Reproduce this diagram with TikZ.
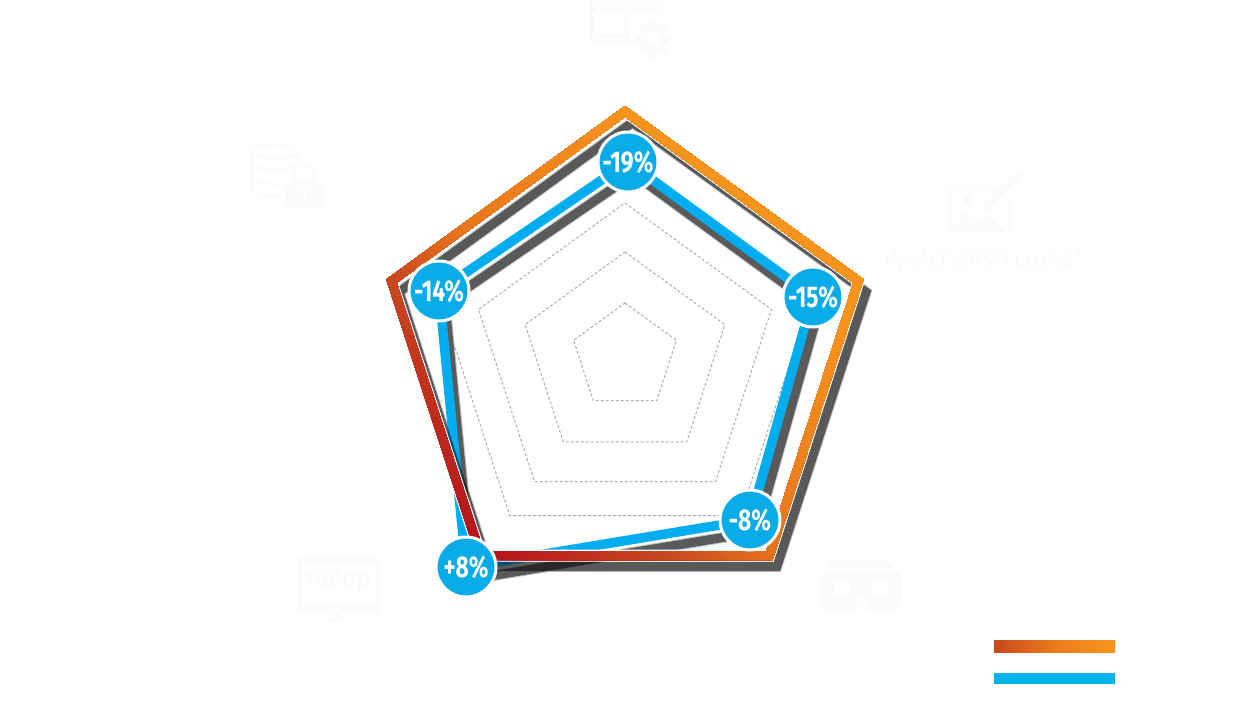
\documentclass[tikz,border=0pt]{standalone}
\usepackage{fontspec}
\setmainfont{Fira Sans}
\newfontfamily\cond[FakeStretch=.76]{Fira Sans}
\newfontfamily\lab[FakeStretch=.83]{Fira Sans}
\usetikzlibrary{calc}
\definecolor{skyb}{HTML}{0AACE8}
\definecolor{lineb}{HTML}{00AEEF}
\definecolor{legb}{HTML}{00B4EB}
\definecolor{shad}{HTML}{5B5A5B}
\definecolor{shadm}{HTML}{767576}
\definecolor{shadl}{HTML}{C4C4C4}
\definecolor{faint}{HTML}{FBFBFB}
\definecolor{ca}{HTML}{B5121B}
\definecolor{cb}{HTML}{C8481F}
\definecolor{cc}{HTML}{E8751B}
\definecolor{cd}{HTML}{F7941D}
\newcommand\pentpath[1]{(-90:#1) -- (-18:#1) -- (54:#1) -- (126:#1) -- (198:#1) -- cycle}
\tikzset{
  ring/.style={draw=black!33,line width=1pt,dash pattern=on 2.8pt off 2.2pt},
  badge/.style={circle,fill=skyb,draw=white,line width=3pt,minimum size=60pt,inner sep=0pt,
    text=white,font=\cond\bfseries\fontsize{30}{30}\selectfont},
  bluestroke/.style={draw=lineb,line width=9.5pt,miter limit=10},
  shadowstroke/.style={draw=shad,line width=9pt},
  blurstroke/.style={draw=shadl,line width=11pt},
  ghost/.style={fill=faint,draw=none},
  ghostline/.style={draw=faint,line width=2.6pt},
  hole/.style={fill=white,draw=none}
}
\begin{document}
\begin{tikzpicture}[x=1pt,y=-1pt]
\useasboundingbox (0,0) rectangle (1260,709);
\fill[white] (0,0) rectangle (1260,709);

% ---------- ghost icons
% film + gear
\fill[ghost] (590,0) rectangle (663,44);
\fill[hole] (594,10) rectangle (625,34);
\fill[hole] (628,10) rectangle (661,34);
\foreach \i in {0,...,9}{\fill[hole] (596+\i*6.9,4.7) circle (2);}
\foreach \i in {0,...,5}{\fill[hole] (596+\i*6.9,39.5) circle (2);}
\fill[hole] (653,39) circle (23);
\fill[ghost] (653,39) circle (14.5);
\foreach \a in {0,45,...,315}{\fill[ghost,shift={(653,39)},rotate=\a] (-3.6,-19) rectangle (3.6,-12);}
\fill[hole] (653,39) circle (7.5);
% database + lock
\draw[ghostline] (274.5,151) ellipse (23 and 7);
\draw[ghostline] (251.5,151) -- (251.5,190) .. controls (252,194) and (265,197.5) .. (283,197);
\draw[ghostline] (297.5,151) -- (297.5,170);
\draw[ghostline] (251.5,164) .. controls (254,170) and (285,172) .. (297.5,164);
\draw[ghostline] (251.5,178) .. controls (254,183) and (270,185) .. (283,184);
\fill[ghost] (285,182) rectangle (323,209);
\draw[draw=faint,line width=4.5pt] (293.5,182) -- (293.5,175) arc (180:360:10.5) -- (314.5,182);
\fill[hole] (304,190) circle (3);
\fill[hole] (302.5,190) rectangle (305.5,200);
% monitor
\fill[ghost] (298,558) rectangle (379,613);
\fill[hole] (301,562) rectangle (376,603);
\fill[hole] (337.5,609) circle (2);
\fill[ghost] (332,613) rectangle (343,619);
\fill[ghost] (326,619) rectangle (348,622);
\node[text=faint,font=\bfseries\fontsize{24}{24}\selectfont,inner sep=0pt] (monitorlabel) at (337,582) {1080p};
% VR goggles
\fill[ghost] (827,568) .. controls (829,563) and (832,560) .. (838,560) -- (884,560) .. controls (890,560) and (893,563) .. (895,568) -- cycle;
\fill[ghost,rounded corners=7pt] (820,571) rectangle (902,610);
\fill[hole] (842,588) circle (8.5);
\fill[hole] (879,588) circle (8.5);
\fill[hole] (854,610) -- (858,599) .. controls (860,595) and (862,595) .. (864,599) -- (868,610) -- cycle;
\fill[ghost] (857,609) -- (860,602) .. controls (860.5,600) and (861.5,600) .. (862,602) -- (865,609) -- cycle;
% content creation icon
\draw[draw=faint,line width=2.6pt] (949.5,189) rectangle (1009.5,231);
\fill[ghost] (950,231) -- (966,212) -- (980,224) -- (990,215) -- (1009,231) -- cycle;
\fill[ghost] (967,200) circle (5.5);
\fill[hole] (986,210) -- (1016,176) -- (1024,183) -- (992,216) -- cycle;
\fill[ghost] (982,211) -- (985,203) -- (1015,172) .. controls (1019,168) and (1026,175) .. (1023,179) -- (991,210) -- cycle;
\node[text=faint,font=\lab\fontsize{24.5}{24.5}\selectfont,inner sep=0pt] (creationlabel) at (983.5,260) {INHALTSERSTELLUNG*};

% ---------- dashed rings
\begin{scope}[shift={(625,357)}]
  \draw[ring] \pentpath{54};
  \draw[ring] \pentpath{105};
  \draw[ring] \pentpath{154};
  \draw[ring] \pentpath{196};
\end{scope}

% ---------- blue series anchors
\coordinate (b1) at (628,162);
\coordinate (b2) at (813,297);
\coordinate (b3) at (750,520);
\coordinate (b4) at (466,567);
\coordinate (b5) at (439,291);

% blurred edges of the shadows
\draw[blurstroke] ([xshift=6pt,yshift=-12pt]b1) -- ([xshift=6pt,yshift=-12pt]b2) -- ([xshift=6pt,yshift=-12pt]b3) -- ([xshift=6pt,yshift=-12pt]b4) -- ([xshift=6pt,yshift=-12pt]b5) -- cycle;
\begin{scope}[shift={(632.5,368)}]
  \draw[blurstroke] \pentpath{245.5};
\end{scope}
% blue shadow
\draw[shadowstroke] ([xshift=6pt,yshift=-12pt]b1) -- ([xshift=6pt,yshift=-12pt]b2) -- ([xshift=6pt,yshift=-12pt]b3) -- ([xshift=6pt,yshift=-12pt]b4) -- ([xshift=6pt,yshift=-12pt]b5) -- cycle;
% blue line
\draw[bluestroke] (b1) -- (b2) -- (b3) -- (b4) -- (b5) -- cycle;
% orange shadow, multiplied on what lies under it
\begin{scope}[shift={(632.5,368)},blend mode=multiply]
  \draw[shadowstroke,draw=shadm] \pentpath{245.5};
\end{scope}

% ---------- gradient pentagon
\begin{scope}[shift={(625,357)}]
  \draw[draw=white,line width=12pt] \pentpath{245.5};
\end{scope}
\begin{scope}[shift={(625,357)},even odd rule]
  \clip \pentpath{251} \pentpath{240};
  \begin{scope}[shift={(-625,-357)}]
  \foreach \t in {-60,-54,...,660}{
    \ifnum\t<186 
      \pgfmathtruncatemacro\p{max(0,\t/1.85)}\colorlet{stripc}{cb!\p!ca}%
    \else\ifnum\t<301 
      \pgfmathtruncatemacro\p{(\t-185)/1.15}\colorlet{stripc}{cc!\p!cb}%
    \else
      \pgfmathtruncatemacro\p{min(100,(\t-300)/3)}\colorlet{stripc}{cd!\p!cc}%
    \fi\fi
    \pgfmathsetmacro\c{\t-75}
    \fill[stripc] (\c,0) -- (\c+700,700) -- (2000,700) -- (2000,0) -- cycle;
  }
  \end{scope}
\end{scope}

% ---------- badges
\node[badge] (n1) at (b1) {-19\%};
\node[badge] (n2) at (b2) {-15\%};
\node[badge] (n3) at (b3) {-8\%};
\node[badge] (n4) at (b4) {+8\%};
\node[badge] (n5) at (b5) {-14\%};

% ---------- legend
\shade[left color=cb,right color=cd,middle color=cc!80!cd] (994,640) rectangle (1115,652);
\fill[legb] (994,673) rectangle (1115,684);
\end{tikzpicture}
\end{document}
